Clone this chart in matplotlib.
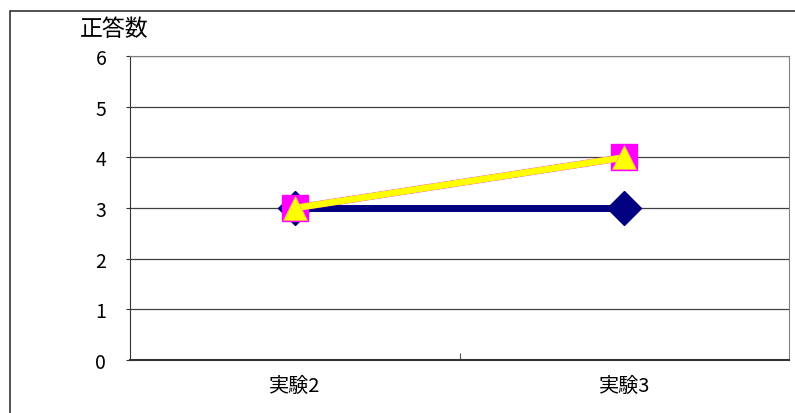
import matplotlib.pyplot as plt
from matplotlib.patches import Rectangle

plt.rcParams['font.family'] = ['Noto Sans CJK JP', 'DejaVu Sans']

# --- データ ---
categories = ['実験2', '実験3']
series_navy = [3, 3]
series_magenta = [3, 4]
series_yellow = [3, 4]
y_ticks = [0, 1, 2, 3, 4, 5, 6]
# ---------------

fig = plt.figure(figsize=(7.95, 4.14), dpi=100)
ax = fig.add_axes([0.1635, 0.128, 0.829, 0.734])

x = list(range(len(categories)))

ax.plot(x, series_navy, color='#000080', linewidth=5, marker='D',
        markersize=17, markerfacecolor='#000080', markeredgecolor='#000080', zorder=3)
ax.plot(x, series_magenta, color='#FF00FF', linewidth=5, marker='s',
        markersize=19, markerfacecolor='#FF00FF', markeredgecolor='#FF00FF', zorder=4)
ax.plot(x, series_yellow, color='#FFFF00', linewidth=4.8, marker='^',
        markersize=17, markerfacecolor='#FFFF00', markeredgecolor='#FFAA66',
        markeredgewidth=0.5, zorder=5)

ax.set_xlim(-0.5, len(categories) - 0.5)
ax.set_ylim(0, 6)
ax.set_yticks(y_ticks)
ax.set_yticklabels([str(v) for v in y_ticks], fontsize=14)

# 項目の境界に目盛り、ラベルは項目の中央
ax.set_xticks([i + 0.5 for i in range(len(categories) - 1)])
ax.set_xticklabels([])
ax.set_xticks(x, minor=True)
ax.set_xticklabels(categories, minor=True, fontsize=14.5)
ax.tick_params(axis='x', which='major', direction='in', length=5, color='#555555')
ax.tick_params(axis='x', which='minor', length=0, pad=11)
ax.tick_params(axis='y', direction='out', length=3, pad=14, color='#333333')

ax.grid(axis='y', color='#404040', linewidth=0.9, zorder=1)
ax.set_axisbelow(True)

for side in ['top', 'right']:
    ax.spines[side].set_color('#808080')
ax.spines['left'].set_color('#333333')
ax.spines['bottom'].set_color('#333333')
ax.spines['bottom'].set_linewidth(1.5)

fig.text(0.143, 0.928, '正答数', fontsize=16.5, ha='center', va='center')

# 外枠
fig.patches.append(Rectangle((10 / 795, -0.1), 2, 1.1 - 12 / 414,
                             transform=fig.transFigure, fill=False,
                             edgecolor='#333333', linewidth=1.2))

fig.savefig('out.png', dpi=100)
